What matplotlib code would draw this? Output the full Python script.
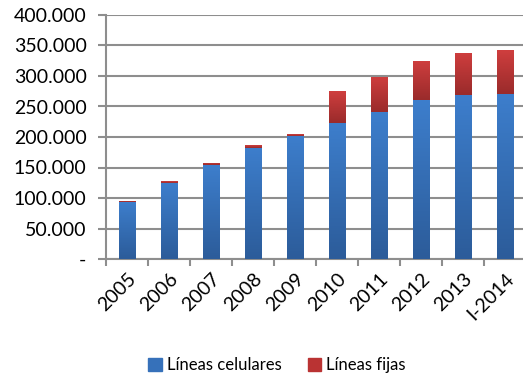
import numpy as np
import matplotlib.pyplot as plt
from matplotlib.patches import Patch
from matplotlib.colors import LinearSegmentedColormap

plt.rcParams['font.family'] = ['Lato', 'DejaVu Sans']

years = ['2005', '2006', '2007', '2008', '2009', '2010', '2011', '2012', '2013', 'I-2014']
celulares = [93500, 125000, 153500, 182500, 202000, 223500, 240500, 260500, 268500, 270500]
fijas = [2000, 3000, 3300, 3800, 2800, 52000, 58000, 64000, 69000, 72000]
yticks = [0, 50000, 100000, 150000, 200000, 250000, 300000, 350000, 400000]
ytick_labels = ['-', '50.000', '100.000', '150.000', '200.000', '250.000',
                '300.000', '350.000', '400.000']

blue = '#3671BA'
red = '#BA3333'
grid = '#8e8e8e'
blue_cmap = LinearSegmentedColormap.from_list('b', ['#2C5C9A', '#3D7ECC'])
red_cmap = LinearSegmentedColormap.from_list('r', ['#9A2B2B', '#CF3E3E'])

fig = plt.figure(figsize=(5.23, 3.77), dpi=100)
ax = fig.add_axes([106 / 523, 118 / 377, 420 / 523, 244 / 377])

x = range(len(years))
b1 = ax.bar(x, celulares, width=0.4, color=blue, zorder=3)
b2 = ax.bar(x, fijas, width=0.4, bottom=celulares, color=red, zorder=3)

# vertical gradient inside each bar segment
grad = np.linspace(0, 1, 100).reshape(-1, 1)
for bars, cmap in [(b1, blue_cmap), (b2, red_cmap)]:
    for p in bars:
        x0, y0 = p.get_x(), p.get_y()
        w, h = p.get_width(), p.get_height()
        im = ax.imshow(grad, cmap=cmap, origin='lower', aspect='auto',
                       extent=[x0, x0 + w, y0, y0 + h], zorder=4)
        im.set_clip_path(p)

ax.set_xlim(-0.5, len(years) - 0.5)
ax.set_ylim(0, 400000)
ax.set_yticks(yticks)
ax.set_yticklabels(ytick_labels, fontsize=14)
ax.yaxis.grid(True, color=grid, linewidth=1.5, zorder=0)

# category ticks sit between bars
ax.set_xticks([i - 0.5 for i in range(len(years) + 1)])
ax.set_xticklabels([])
ax.set_xticks(list(x), minor=True)
ax.set_xticklabels(years, minor=True, rotation=45, ha='right', va='top',
                   rotation_mode='anchor', fontsize=14)
ax.tick_params(axis='x', which='minor', length=0, pad=8)
ax.tick_params(axis='x', which='major', length=5, color=grid, width=1.5)
ax.tick_params(axis='y', length=6, color=grid, width=1.5, pad=8)

for side in ['top', 'right']:
    ax.spines[side].set_visible(False)
for side in ['left', 'bottom']:
    ax.spines[side].set_color(grid)
    ax.spines[side].set_linewidth(1.5)

handles = [Patch(color=blue, label='Líneas celulares'),
           Patch(color=red, label='Líneas fijas')]
fig.legend(handles=handles, loc='center', bbox_to_anchor=(277 / 523, 1 - 365 / 377),
           ncol=2, frameon=False, fontsize=12, handlelength=0.8, handleheight=0.8,
           handletextpad=0.3, columnspacing=1.6)

fig.savefig('out.png', dpi=100)
